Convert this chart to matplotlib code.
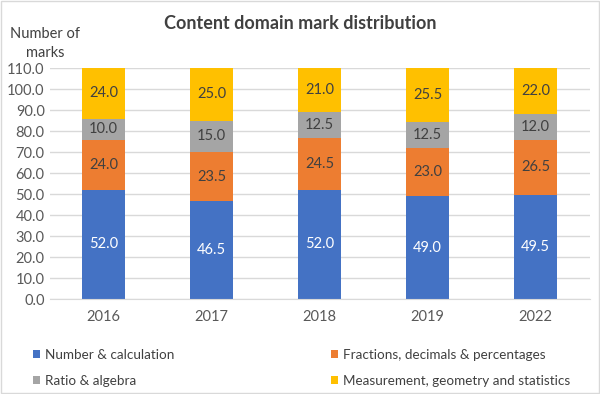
import matplotlib.pyplot as plt
import numpy as np
from matplotlib.patches import Rectangle

years = ['2016', '2017', '2018', '2019', '2022']
number_calc = [52.0, 46.5, 52.0, 49.0, 49.5]
fractions = [24.0, 23.5, 24.5, 23.0, 26.5]
ratio_alg = [10.0, 15.0, 12.5, 12.5, 12.0]
measurement = [24.0, 25.0, 21.0, 25.5, 22.0]

series = {
    'Number & calculation': number_calc,
    'Fractions, decimals & percentages': fractions,
    'Ratio & algebra': ratio_alg,
    'Measurement, geometry and statistics': measurement,
}
colors = ['#4472C4', '#ED7D31', '#A5A5A5', '#FFC000']
label_colors = ['white', '#404040', '#404040', '#404040']

plt.rcParams['font.family'] = ['Lato', 'DejaVu Sans']

fig = plt.figure(figsize=(6, 3.94), dpi=100)
ax = fig.add_axes([0.0825, 0.241, 0.9, 0.586])
fig.patches.append(Rectangle((0.002, 0.002), 0.996, 0.995, transform=fig.transFigure,
                             fill=False, edgecolor='#D9D9D9', linewidth=1))

x = np.arange(len(years))
bottom = np.zeros(len(years))
handles = []
for (name, vals), c, lc in zip(series.items(), colors, label_colors):
    rects = ax.bar(x, vals, 0.4, bottom=bottom, color=c, label=name, zorder=2)
    handles.append(rects)
    ax.bar_label(rects, labels=[f'{v:.1f}' for v in vals], label_type='center',
                 color=lc, fontsize=10.5)
    bottom += np.array(vals)

ax.set_xlim(-0.5, len(years) - 0.5)
ax.set_ylim(0, 110)
ax.set_yticks(np.arange(0, 111, 10))
ax.set_yticklabels([f'{v:.1f}' for v in np.arange(0, 111, 10)])
ax.set_xticks(x, years)
ax.tick_params(axis='both', colors='#595959', labelsize=10.5, length=0)
ax.tick_params(axis='x', pad=8)
ax.grid(axis='y', color='#D9D9D9', linewidth=1, zorder=0)
for s in ['top', 'right', 'left']:
    ax.spines[s].set_visible(False)
ax.spines['bottom'].set_color('#D9D9D9')

fig.text(0.5, 0.94, 'Content domain mark distribution', ha='center', va='center',
         fontsize=13, fontweight='bold', color='#404040')
fig.text(0.075, 0.89, 'Number of\nmarks', ha='center', va='center',
         fontsize=10.5, color='#404040', linespacing=1.45)

# legend fills column-wise, so reorder to get row-wise layout
order = [0, 2, 1, 3]
fig.legend(handles=[handles[i] for i in order], loc='lower left',
           bbox_to_anchor=(0.046, 0.005), borderaxespad=0,
           ncols=2, frameon=False, fontsize=9.7, labelcolor='#404040',
           handlelength=0.52, handleheight=0.52, handletextpad=0.37,
           columnspacing=11.6, labelspacing=1.0)

plt.savefig('out.png', dpi=100)
